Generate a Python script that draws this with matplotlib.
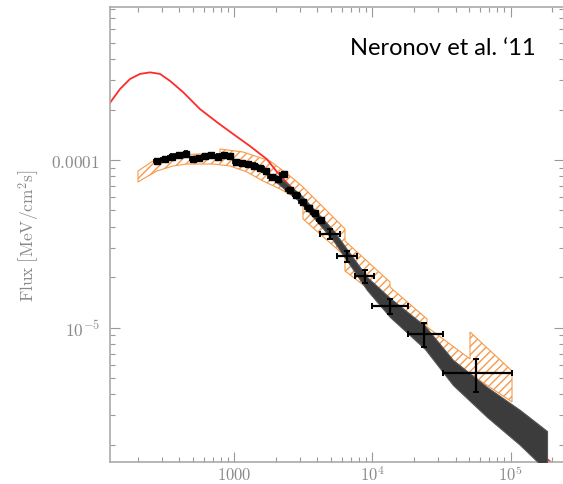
import matplotlib
matplotlib.use('Agg')
import matplotlib.pyplot as plt
from matplotlib.ticker import FixedLocator, FixedFormatter, LogLocator, NullFormatter

plt.rcParams['mathtext.fontset'] = 'cm'

# ---------------- data ----------------
# red model curve (energy [MeV], flux)
model_E = [126, 149, 176, 208, 246, 290, 343, 426, 565, 750, 979, 1299, 1724,
           2037, 2988, 5180, 9125, 13380, 23980, 38230, 67390, 116760, 186200, 247000]
model_F = [2.19e-4, 2.65e-4, 3.04e-4, 3.26e-4, 3.33e-4, 3.26e-4, 2.96e-4,
           2.54e-4, 2.01e-4, 1.68e-4, 1.43e-4, 1.21e-4, 1.01e-4, 8.48e-5,
           6.02e-5, 3.57e-5, 1.84e-5, 1.32e-5, 8.7e-6, 5.4e-6, 3.6e-6,
           2.5e-6, 1.63e-6, 1.36e-6]

# dark fit band
band_E = [1970, 2988, 5180, 9125, 13380, 23980, 38230, 67390, 116760, 183100]
band_hi = [8.25e-5, 6.27e-5, 3.83e-5, 2.006e-5, 1.503e-5, 1.023e-5, 6.42e-6,
           4.43e-6, 3.23e-6, 2.42e-6]
band_lo = [7.49e-5, 5.62e-5, 3.33e-5, 1.678e-5, 1.158e-5, 7.46e-6, 4.55e-6,
           2.935e-6, 2.00e-6, 1.398e-6]

# orange hatched region: upper edge (left to right), lower edge (right to left)
hatch_up_E = [201, 258, 372, 565, 788, 788, 1156, 1813, 2529, 3141, 6324, 6324,
              13380, 13380, 24800, 24800, 50760, 50760, 102200]
hatch_up_F = [8.60e-5, 9.86e-5, 1.071e-4, 1.086e-4, 1.071e-4, 1.163e-4, 1.116e-4,
              9.86e-5, 8.03e-5, 6.90e-5, 3.88e-5, 3.29e-5, 1.873e-5, 1.748e-5,
              1.127e-5, 1.010e-5, 6.51e-6, 9.43e-6, 5.52e-6]
hatch_lo_E = [102200, 50760, 25200, 13380, 8395, 6324, 6324, 3141, 3141, 2141,
              1613, 1236, 931, 701, 455, 360, 276, 218, 201]
hatch_lo_F = [3.61e-6, 5.30e-6, 8.33e-6, 1.329e-5, 1.822e-5, 2.178e-5, 2.677e-5,
              4.45e-5, 5.62e-5, 6.72e-5, 7.49e-5, 8.48e-5, 9.21e-5, 9.46e-5,
              9.46e-5, 9.21e-5, 8.60e-5, 7.70e-5, 7.39e-5]

# dense low-energy data points
pts_E = [276, 315, 354, 398, 447, 503, 555, 614, 678, 762, 842, 931, 1029,
         1137, 1256, 1389, 1535, 1696, 1874, 2071, 2289, 2529, 2796, 3141,
         3471, 3836, 4240]
pts_F = [9.90e-5, 1.014e-4, 1.049e-4, 1.071e-4, 1.093e-4, 1.014e-4, 1.028e-4,
         1.057e-4, 1.064e-4, 1.049e-4, 1.071e-4, 1.057e-4, 9.73e-5, 9.60e-5,
         9.46e-5, 9.27e-5, 8.96e-5, 8.60e-5, 7.92e-5, 7.70e-5, 8.25e-5,
         6.62e-5, 6.18e-5, 5.62e-5, 5.17e-5, 4.83e-5, 4.39e-5]

# high-energy points with error bars
hep_E = [4926, 6539, 8826, 13380, 23780, 56100]
hep_F = [3.62e-5, 2.66e-5, 2.02e-5, 1.347e-5, 9.11e-6, 5.37e-6]
hep_Emin = [4170, 5536, 7469, 9918, 17920, 32100]
hep_Emax = [5821, 7723, 10260, 18070, 32100, 102200]
hep_Fmin = [3.38e-5, 2.46e-5, 1.85e-5, 1.207e-5, 7.67e-6, 4.14e-6]
hep_Fmax = [3.87e-5, 2.87e-5, 2.21e-5, 1.483e-5, 1.067e-5, 6.51e-6]

x_ticks = [1e3, 1e4, 1e5]
x_tick_labels = [r'$1000$', r'$10^4$', r'$10^5$']
y_ticks = [1e-5, 1e-4]
y_tick_labels = [r'$10^{-5}$', r'$0.0001$']
y_label = r'$\mathrm{Flux}\ \left[\mathrm{MeV/cm^2s}\right]$'
annotation = 'Neronov et al. \u201811'

# ---------------- figure ----------------
W, H = 563, 485
fig = plt.figure(figsize=(W / 100, H / 100), dpi=100)
ax = fig.add_axes([110 / W, 22 / H, 454 / W, 455 / H])
ax.set_xscale('log')
ax.set_yscale('log')
ax.set_xlim(126.1, 2.43e5)
ax.set_ylim(1.582e-6, 8.17e-4)

orange = '#f79a4a'
ax.fill(hatch_up_E + hatch_lo_E, hatch_up_F + hatch_lo_F, facecolor='none',
        edgecolor=orange, hatch='////', linewidth=0.8, zorder=1)

ax.plot(model_E, model_F, color='#ff2a2a', lw=1.3, zorder=2)

ax.fill_between(band_E, band_lo, band_hi, facecolor='#3c3c3c',
                edgecolor='#555555', linewidth=0.8, zorder=3)

fac = 1.06
ax.errorbar(pts_E, pts_F,
            xerr=[[e - e / fac for e in pts_E], [e * fac - e for e in pts_E]],
            yerr=[[f - f / 1.03 for f in pts_F], [f * 1.03 - f for f in pts_F]],
            fmt='s', ms=5, color='black', ecolor='black', elinewidth=1.6,
            capsize=1.5, capthick=1.2, zorder=4)

ax.errorbar(hep_E, hep_F,
            xerr=[[e - lo for e, lo in zip(hep_E, hep_Emin)],
                  [hi - e for e, hi in zip(hep_E, hep_Emax)]],
            yerr=[[f - lo for f, lo in zip(hep_F, hep_Fmin)],
                  [hi - f for f, hi in zip(hep_F, hep_Fmax)]],
            fmt='none', ecolor='black', elinewidth=1.6, capsize=2.2,
            capthick=1.4, zorder=4)

# ---------------- axes styling ----------------
grey = '#aaaaaa'
for s in ax.spines.values():
    s.set_color(grey)
    s.set_linewidth(1.2)

ax.xaxis.set_major_locator(FixedLocator(x_ticks))
ax.xaxis.set_major_formatter(FixedFormatter(x_tick_labels))
ax.yaxis.set_major_locator(FixedLocator(y_ticks))
ax.yaxis.set_major_formatter(FixedFormatter(y_tick_labels))
for axis in (ax.xaxis, ax.yaxis):
    axis.set_minor_locator(LogLocator(base=10, subs=range(2, 10), numticks=20))
    axis.set_minor_formatter(NullFormatter())

ax.tick_params(which='both', direction='in', top=True, right=True,
               color='#999999', width=0.8, labelcolor='#8a8a8a', labelsize=12.5)
ax.tick_params(axis='x', labelsize=12)
ax.tick_params(which='major', length=7)
ax.tick_params(which='minor', length=3.5)
ax.tick_params(axis='x', pad=2)
ax.tick_params(axis='y', pad=7)

ax.set_ylabel(y_label, color='#8a8a8a', fontsize=12.5)
ax.yaxis.set_label_coords(-0.15, 0.5)

fig.text(350 / W, 1 - 55 / H, annotation, fontsize=17, family='Lato',
         color='black', ha='left', va='baseline')

fig.savefig('out.png', dpi=100)
